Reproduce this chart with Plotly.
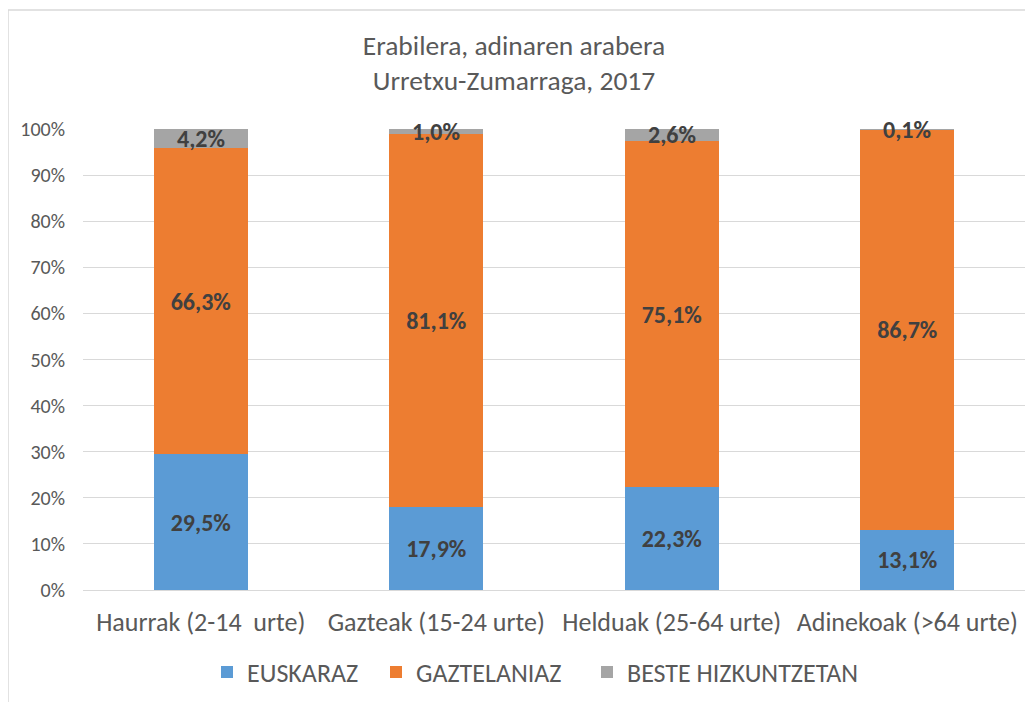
import plotly.graph_objects as go

categories = ["Haurrak (2-14  urte)", "Gazteak (15-24 urte)", "Helduak (25-64 urte)", "Adinekoak (>64 urte)"]
euskaraz = [29.5, 17.9, 22.3, 13.1]
gaztelaniaz = [66.3, 81.1, 75.1, 86.7]
beste = [4.2, 1.0, 2.6, 0.1]
series_names = ["EUSKARAZ", "GAZTELANIAZ", "BESTE HIZKUNTZETAN"]
colors = ["#5B9BD5", "#ED7D31", "#A5A5A5"]

FONT = "Carlito, Lato, Open Sans, sans-serif"
W, H = 1033, 702
OFF = 8  # page body margin
L, R, T, B = 83 - OFF, 1025 - OFF, 129 - OFF, 590 - OFF
pw, ph = R - L, B - T
LABEL_SIZE = 24
LEGEND_SQ_CENTERS = [226, 395, 606]  # page px of legend swatch centres
SWATCH_OFFSET = 19

def fmt(v):
    return f"{v:.1f}".replace(".", ",") + "%"

legend_ids = ["legend", "legend2", "legend3"]
fig = go.Figure()
series = [euskaraz, gaztelaniaz, beste]
for i, (name, vals, col) in enumerate(zip(series_names, series, colors)):
    inside = i < 2
    fig.add_trace(go.Bar(
        x=categories, y=vals, name=name, marker=dict(color=col, line=dict(width=0)),
        text=[fmt(v) for v in vals] if inside else None,
        textposition="inside" if inside else "none", insidetextanchor="middle",
        textangle=0, constraintext="none", cliponaxis=False,
        textfont=dict(family=FONT, size=LABEL_SIZE, color="#404040", weight="bold"),
        hoverinfo="skip", legend=legend_ids[i],
    ))

# labels of the small top segment, centred on it (normalised like barnorm)
for c, e, g, b in zip(categories, euskaraz, gaztelaniaz, beste):
    tot = e + g + b
    fig.add_annotation(x=c, y=(e + g + b / 2) / tot * 100, text=fmt(b), showarrow=False,
                       xanchor="center", yanchor="middle",
                       font=dict(family=FONT, size=LABEL_SIZE, color="#404040", weight="bold"))

legend_y = (B - (672 - OFF)) / ph
legends = {}
for lid, cx in zip(legend_ids, LEGEND_SQ_CENTERS):
    legends[lid] = dict(orientation="h", x=(cx - SWATCH_OFFSET - OFF - L) / pw, xanchor="left",
                        y=legend_y, yanchor="middle", bgcolor="rgba(0,0,0,0)",
                        font=dict(size=26, color="#595959"), itemwidth=30)

fig.update_layout(
    width=W, height=H,
    margin=dict(l=L, r=W - R, t=T, b=H - B, pad=0, autoexpand=False),
    barmode="stack", barnorm="percent", bargap=0.6,
    paper_bgcolor="white", plot_bgcolor="white",
    uniformtext=dict(minsize=LABEL_SIZE, mode="show"),
    title=dict(text="Erabilera, adinaren arabera<br>Urretxu-Zumarraga, 2017",
               x=(514 - OFF) / W, xanchor="center", y=1 - (54.5 - OFF) / H, yanchor="middle",
               font=dict(family=FONT, size=27.5, color="#595959")),
    font=dict(family=FONT, color="#595959"),
    showlegend=True,
    **legends,
)
fig.update_yaxes(range=[0, 100], tickvals=list(range(0, 101, 10)),
                 ticktext=[f"{v}%" for v in range(0, 101, 10)],
                 showgrid=True, gridcolor="#D9D9D9", gridwidth=1, zeroline=False,
                 ticks="outside", ticklen=13, tickcolor="white", automargin=False,
                 tickfont=dict(size=20, color="#595959"), fixedrange=True)
fig.update_xaxes(showline=True, linecolor="#D9D9D9", ticks="outside", ticklen=9, tickcolor="white",
                 tickangle=0, automargin=False,
                 tickfont=dict(size=26, color="#595959"), fixedrange=True)

fig.add_shape(type="rect", xref="paper", yref="paper",
              x0=(8 - OFF - L) / pw, x1=(W + 20 - L) / pw, y0=(B - (H + 20)) / ph, y1=(B - (10 - OFF)) / ph,
              line=dict(color="#D9D9D9", width=1.5), fillcolor="rgba(0,0,0,0)", layer="below")

fig.write_html("out.html")
